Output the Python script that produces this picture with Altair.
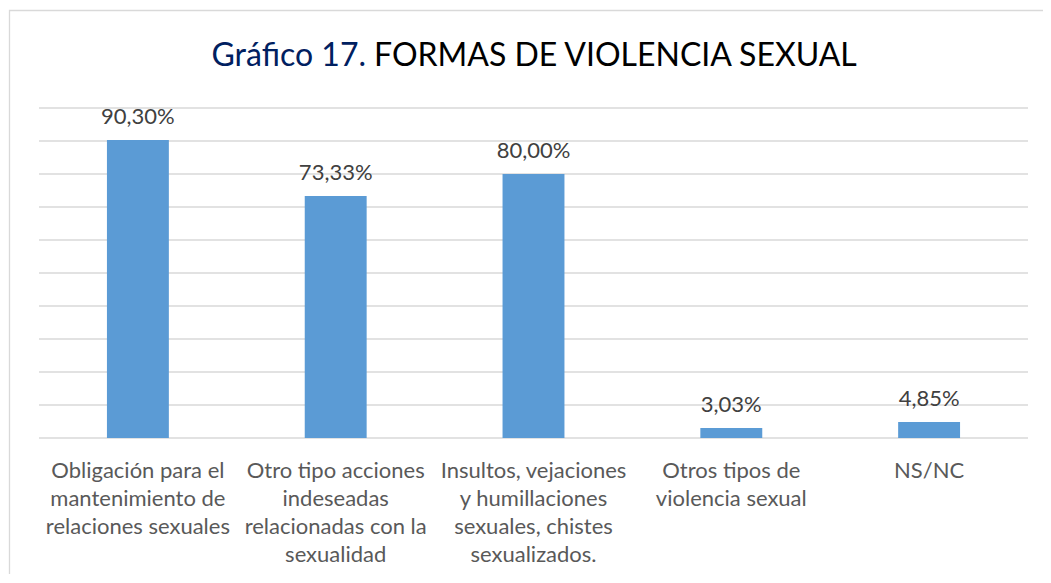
import altair as alt
import pandas as pd

# --- data ---
category_lines = [
    ["Obligación para el", "mantenimiento de", "relaciones sexuales"],
    ["Otro tipo acciones", "indeseadas", "relacionadas con la", "sexualidad"],
    ["Insultos, vejaciones", "y humillaciones", "sexuales, chistes", "sexualizados."],
    ["Otros tipos de", "violencia sexual"],
    ["NS/NC"],
]
values = [90.30, 73.33, 80.00, 3.03, 4.85]
grid_values = [0, 10, 20, 30, 40, 50, 60, 70, 80, 90, 100]
title_part1 = "Gráfico 17."
title_part2 = "FORMAS DE VIOLENCIA SEXUAL"

categories = ["|".join(lines) for lines in category_lines]
df = pd.DataFrame({
    "categoria": categories,
    "valor": values,
    "etiqueta": [f"{v:.2f}".replace(".", ",") + "%" for v in values],
})
grid_df = pd.DataFrame({"valor": grid_values})
one = pd.DataFrame({"k": [0]})

FONT = "Lato"
W, H = 989, 330

y_scale = alt.Scale(domain=[0, 100], nice=False)

x_enc = alt.X(
    "categoria:N",
    sort=categories,
    scale=alt.Scale(paddingInner=0.687, paddingOuter=0.3435),
    axis=alt.Axis(
        title=None, labelAngle=0, labelLimit=0, ticks=False, domain=False,
        labelExpr="split(datum.label, '|')", labelLineHeight=28,
        labelFontSize=22, labelFont=FONT, labelColor="#595959",
        labelPadding=22, labelBaseline="top", grid=False,
    ),
)
y_enc = alt.Y("valor:Q", scale=y_scale, axis=None)

grid = alt.Chart(grid_df).mark_rule(color="#d9d9d9", strokeWidth=1.3).encode(
    y=alt.Y("valor:Q", scale=y_scale, axis=None)
)

base = alt.Chart(df)
bars = base.mark_bar(color="#5B9BD5").encode(x=x_enc, y=y_enc)
labels = base.mark_text(
    font=FONT, fontSize=22, color="#404040", baseline="alphabetic", dy=-16
).encode(x=alt.X("categoria:N", sort=categories), y=alt.Y("valor:Q", scale=y_scale), text="etiqueta:N")

border = alt.Chart(one).mark_rect(
    filled=False, stroke="#d9d9d9", strokeWidth=1.3
).encode(x=alt.value(-29.5), x2=alt.value(1200), y=alt.value(-97.5), y2=alt.value(700))

t1 = alt.Chart(one).mark_text(
    font=FONT, fontSize=32, color="#002060", align="right", baseline="alphabetic"
).encode(x=alt.value(327), y=alt.value(-42), text=alt.value(title_part1))
t2 = alt.Chart(one).mark_text(
    font=FONT, fontSize=32, color="#000000", align="left", baseline="alphabetic"
).encode(x=alt.value(335), y=alt.value(-42), text=alt.value(title_part2))

chart = alt.layer(border, grid, bars, labels, t1, t2).properties(
    width=W, height=H,
    autosize=alt.AutoSizeParams(type="none"),
    padding={"left": 31, "top": 100, "right": 15, "bottom": 136},
    background="white",
).configure_view(stroke=None)

chart.save("out.html", embed_options={"renderer": "svg", "actions": False})
